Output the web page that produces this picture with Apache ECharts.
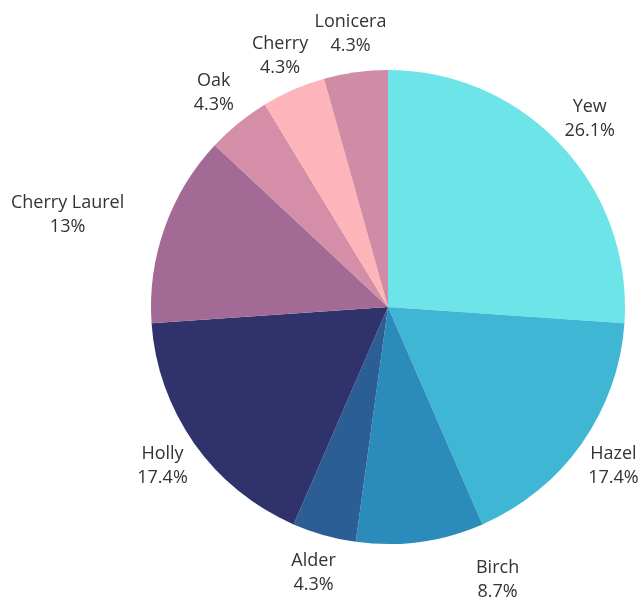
<!DOCTYPE html>
<html>
<head>
<meta charset="utf-8">
<script src="https://cdn.jsdelivr.net/npm/echarts@6/dist/echarts.min.js"></script>
<style>
html,body{margin:0;padding:0;background:#fff;}
#chart{width:641px;height:600px;}
</style>
</head>
<body>
<div id="chart"></div>
<script>
// Data (counts out of 23, giving the shown percentages)
const categories = ['Yew', 'Hazel', 'Birch', 'Alder', 'Holly', 'Cherry Laurel', 'Oak', 'Cherry', 'Lonicera'];
const values = [6, 4, 2, 1, 4, 3, 1, 1, 1];
const percentLabels = ['26.1%', '17.4%', '8.7%', '4.3%', '17.4%', '13%', '4.3%', '4.3%', '4.3%'];
const colors = ['#6ce4e8', '#40b6d5', '#2b8bba', '#2c5e96', '#30336b', '#a36a95', '#d48ea8', '#feb5b9', '#d08ba6'];

const chart = echarts.init(document.getElementById('chart'), null, {renderer: 'canvas'});
const CX = 388, CY = 307, R = 237;
// small label nudges (layout only) to match the reference placement
const labelNudge = {'Birch': [72, -1], 'Lonicera': [12, 0], 'Cherry Laurel': [-7, 0], 'Cherry': [2, 2]};

const data = categories.map((c, i) => ({
  name: c,
  value: values[i],
  itemStyle: {color: colors[i]}
}));

chart.setOption({
  animation: false,
  backgroundColor: '#ffffff',
  series: [{
    type: 'pie',
    center: [CX, CY],
    radius: R,
    startAngle: 90,
    clockwise: true,
    avoidLabelOverlap: false,
    data: data,
    itemStyle: {borderWidth: 0},
    label: {
      show: true,
      position: 'outside',
      formatter: p => p.name + '\n' + percentLabels[p.dataIndex],
      fontFamily: 'Open Sans',
      fontSize: 18,
      lineHeight: 24,
      color: '#333333',
      align: 'center',
      overflow: 'none'
    },
    labelLine: {show: true, length: 10, length2: 0, lineStyle: {opacity: 0, width: 0}},
    labelLayout: function (params) {
      const pts = params.labelLinePoints;
      if (!pts) return {};
      const dx = pts[0][0] - CX;
      const dy = pts[0][1] - CY;
      const len = Math.sqrt(dx * dx + dy * dy) || 1;
      const ux = dx / len, uy = dy / len;
      const w = params.labelRect.width;
      const shift = Math.max(0, w - 60) * (ux < 0 ? -1 : 1);
      const nudge = labelNudge[categories[params.dataIndex]] || [0, 0];
      return {
        x: pts[0][0] + ux * 39 + shift + nudge[0],
        y: pts[0][1] + uy * 39 + nudge[1],
        align: 'center',
        verticalAlign: 'middle'
      };
    }
  }]
});
</script>
</body>
</html>
